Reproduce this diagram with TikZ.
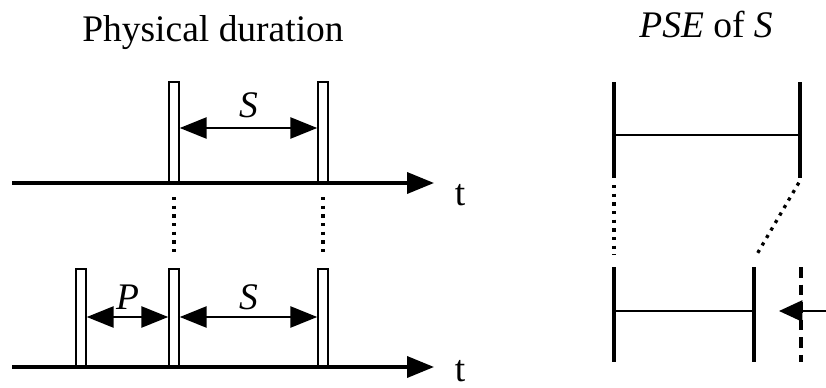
\documentclass[tikz,border=0pt]{standalone}
\usepackage{fontspec}
\setmainfont{Liberation Serif}
\usetikzlibrary{positioning,arrows.meta}

\begin{document}
\begin{tikzpicture}[x=0.03cm,y=-0.03cm,>={Triangle[length=23pt,width=18pt]},
  font=\fontsize{32}{38}\selectfont,
  axis/.style={line width=2.8pt},
  pulse/.style={draw,fill=white,line width=1.8pt,minimum width=8pt,minimum height=85pt,inner sep=0pt,anchor=south},
  lowpulse/.style={pulse,minimum height=83pt},
  dim/.style={line width=2pt,<->},
  guide/.style={line width=2.8pt,dash pattern=on 2.8pt off 4.6pt},
  bar/.style={line width=2.6pt},
  span/.style={line width=2pt},
  tlabel/.style={anchor=base,inner sep=0pt}]
  \useasboundingbox (0,0) rectangle (826,388);

  % left: physical duration
  \node[anchor=base] (title1) at (213,41) {Physical duration};
  \coordinate (ax1) at (12,183);
  \coordinate (tip1) at (434,183);
  \coordinate (ax2) at (12,367);
  \coordinate (tip2) at (434,367);
  \draw[axis,->] (ax1) -- (tip1);
  \draw[axis,->] (ax2) -- (tip2);
  \node[tlabel] (t1) at (460,205) {t};
  \node[tlabel] (t2) at (460,381) {t};

  \node[pulse] (a1) at (174,183) {};
  \node[pulse] (a2) at (323,183) {};
  \node[lowpulse] (b0) at (81,367) {};
  \node[lowpulse] (b1) at (174,367) {};
  \node[lowpulse] (b2) at (323,367) {};

  \coordinate (sy1) at (0,128);
  \coordinate (sy2) at (0,317);
  \draw[dim] (a1.east |- sy1) -- (a2.west |- sy1) node[midway,above=4pt,font=\fontsize{32}{38}\selectfont\itshape] (s1) {S};
  \draw[dim] (b0.east |- sy2) -- (b1.west |- sy2) node[midway,above=2pt,font=\fontsize{32}{38}\selectfont\itshape] (p) {P};
  \draw[dim] (b1.east |- sy2) -- (b2.west |- sy2) node[midway,above=2pt,font=\fontsize{32}{38}\selectfont\itshape] (s2) {S};

  \draw[guide] ([yshift=-12pt]a1.south) -- ([yshift=10pt]b1.north);
  \draw[guide] ([yshift=-12pt]a2.south) -- ([yshift=10pt]b2.north);

  % right: PSE of S
  \node[anchor=base] (title2) at (706,37) {\textit{PSE} of \textit{S}};
  \coordinate (u1) at (614,82);  \coordinate (u2) at (614,178);
  \coordinate (v1) at (800,82);  \coordinate (v2) at (800,178);
  \coordinate (l1) at (614,267); \coordinate (l2) at (614,362);
  \coordinate (m1) at (754,267); \coordinate (m2) at (754,362);
  \coordinate (d1) at (801,267); \coordinate (d2) at (801,362);
  \draw[bar] (u1) -- (u2);
  \draw[bar] (v1) -- (v2);
  \draw[span] (u1 |- 0,135) -- (v1 |- 0,135);
  \draw[bar] (l1) -- (l2);
  \draw[bar] (m1) -- (m2);
  \draw[span] (l1 |- 0,311) -- (m1 |- 0,311);
  \draw[guide] ([yshift=-6pt]u2) -- ([yshift=10pt]l1);
  \draw[guide] ([xshift=-1pt,yshift=-4pt]v2) -- ([xshift=2pt,yshift=10pt]m1);
  \draw[bar,dash pattern=on 9pt off 6pt] (d1) -- (d2);
  \coordinate (in) at (826,311);
  \draw[span,->,>={Triangle[length=20pt,width=18pt]}] (in) -- (779,311);
\end{tikzpicture}
\end{document}
